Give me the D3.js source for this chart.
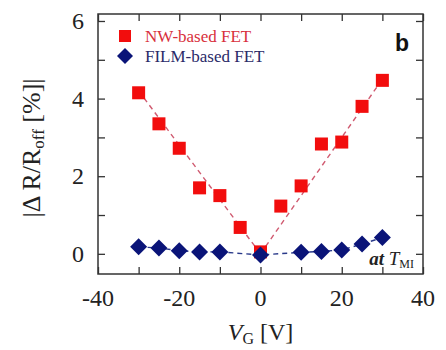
<!DOCTYPE html>
<html>
<head>
<meta charset="utf-8">
<script src="https://cdn.jsdelivr.net/npm/d3@7/dist/d3.min.js"></script>
<style>
  body { margin: 0; background: #fff; }
</style>
</head>
<body>
<div id="chart"></div>
<script>
// values
const gateV = [-30, -25, -20, -15, -10, -5, 0, 5, 10, 15, 20, 25, 30];
const nwValues = [4.15, 3.35, 2.72, 1.70, 1.50, 0.68, 0.05, 1.23, 1.75, 2.83, 2.88, 3.80, 4.47];
const filmV = [-30, -25, -20, -15, -10, 0, 10, 15, 20, 25, 30];
const filmValues = [0.18, 0.15, 0.08, 0.05, 0.05, -0.03, 0.04, 0.06, 0.10, 0.25, 0.42];
// dashed guide lines for the NW device (two branches meeting at 0)
const nwFitLeft = [[-30, 4.2], [0, 0]];
const nwFitRight = [[0, 0], [30, 4.5]];
const xTicks = [-40, -20, 0, 20, 40];
const xMinor = [-30, -10, 10, 30];
const yTicks = [0, 2, 4, 6];
const yMinor = [1, 3, 5];

const W = 446, H = 350;
const margin = {top: 14, right: 23, bottom: 76, left: 98};
const serif = "'Liberation Serif', 'Times New Roman', Times, serif";

const svg = d3.select("#chart").append("svg")
  .attr("width", W).attr("height", H)
  .attr("font-family", serif);

const x = d3.scaleLinear().domain([-40, 40]).range([margin.left, W - margin.right]);
const y = d3.scaleLinear().domain([-0.52, 6.18]).range([H - margin.bottom, margin.top]);

const plotW = W - margin.left - margin.right;
const plotH = H - margin.top - margin.bottom;
const tickLen = 7;

// frame
svg.append("rect")
  .attr("x", margin.left).attr("y", margin.top)
  .attr("width", plotW).attr("height", plotH)
  .attr("fill", "none").attr("stroke", "#333").attr("stroke-width", 1.5);

// inward ticks on all four sides
function drawAxes() {
  const allX = xTicks.concat(xMinor);
  const allY = yTicks.concat(yMinor);

  const bottom = svg.append("g")
    .attr("transform", "translate(0," + (H - margin.bottom) + ")")
    .call(d3.axisBottom(x).tickValues(allX).tickSizeInner(-tickLen).tickSizeOuter(0).tickFormat(""));
  const top = svg.append("g")
    .attr("transform", "translate(0," + margin.top + ")")
    .call(d3.axisTop(x).tickValues(allX).tickSizeInner(-tickLen).tickSizeOuter(0).tickFormat(""));
  const left = svg.append("g")
    .attr("transform", "translate(" + margin.left + ",0)")
    .call(d3.axisLeft(y).tickValues(allY).tickSizeInner(-tickLen).tickSizeOuter(0).tickFormat(""));
  const right = svg.append("g")
    .attr("transform", "translate(" + (W - margin.right) + ",0)")
    .call(d3.axisRight(y).tickValues(allY).tickSizeInner(-tickLen).tickSizeOuter(0).tickFormat(""));

  [bottom, top, left, right].forEach(function (g) {
    g.select(".domain").remove();
    g.selectAll("line").attr("stroke", "#333").attr("stroke-width", 1.3);
  });

  // tick labels
  svg.append("g").selectAll("text")
    .data(xTicks).enter().append("text")
    .attr("x", d => x(d))
    .attr("y", H - margin.bottom + 32)
    .attr("text-anchor", "middle")
    .attr("font-family", serif)
    .attr("font-size", 24)
    .attr("fill", "#222")
    .text(d => d);

  svg.append("g").selectAll("text")
    .data(yTicks).enter().append("text")
    .attr("x", margin.left - 14)
    .attr("y", d => y(d) + 8)
    .attr("text-anchor", "end")
    .attr("font-family", serif)
    .attr("font-size", 24)
    .attr("fill", "#222")
    .text(d => d);
}
drawAxes();

// dashed lines
const line = d3.line().x(d => x(d[0])).y(d => y(d[1]));

[nwFitLeft, nwFitRight].forEach(function (seg) {
  svg.append("path")
    .attr("d", line(seg))
    .attr("fill", "none")
    .attr("stroke", "#d05a70")
    .attr("stroke-width", 1.4)
    .attr("stroke-dasharray", "5,4");
});

svg.append("path")
  .attr("d", line(filmV.map((v, i) => [v, filmValues[i]])))
  .attr("fill", "none")
  .attr("stroke", "#2a3a8a")
  .attr("stroke-width", 1.4)
  .attr("stroke-dasharray", "5,4");

// markers
const sq = 13;
svg.append("g").selectAll("rect")
  .data(gateV.map((v, i) => [v, nwValues[i]]))
  .enter().append("rect")
  .attr("x", d => x(d[0]) - sq / 2)
  .attr("y", d => y(d[1]) - sq / 2)
  .attr("width", sq).attr("height", sq)
  .attr("fill", "#f20d0d");

const dia = 8.5;
svg.append("g").selectAll("path")
  .data(filmV.map((v, i) => [v, filmValues[i]]))
  .enter().append("path")
  .attr("transform", d => "translate(" + x(d[0]) + "," + y(d[1]) + ")")
  .attr("d", "M0," + (-dia) + "L" + dia + ",0L0," + dia + "L" + (-dia) + ",0Z")
  .attr("fill", "#0a1478");

// legend
const legend = svg.append("g");
legend.append("rect")
  .attr("x", 119).attr("y", 30).attr("width", 12).attr("height", 12)
  .attr("fill", "#f20d0d");
legend.append("path")
  .attr("transform", "translate(125,56)")
  .attr("d", "M0,-8L8,0L0,8L-8,0Z")
  .attr("fill", "#0a1478");
legend.append("text")
  .attr("x", 145).attr("y", 42)
  .attr("font-family", serif)
  .attr("font-size", 17).attr("fill", "#d8303c")
  .text("NW-based FET");
legend.append("text")
  .attr("x", 145).attr("y", 62)
  .attr("font-family", serif)
  .attr("font-size", 17).attr("fill", "#2a2a68")
  .text("FILM-based FET");

// panel letter
svg.append("text")
  .attr("x", 402).attr("y", 51)
  .attr("text-anchor", "middle")
  .attr("font-family", "'Liberation Sans', Arial, sans-serif")
  .attr("font-weight", "bold")
  .attr("font-size", 23)
  .attr("fill", "#111")
  .text("b");

// "at T_MI" note
const note = svg.append("text")
  .attr("x", 414).attr("y", 265)
  .attr("text-anchor", "end")
  .attr("font-family", serif)
  .attr("font-size", 19)
  .attr("fill", "#222");
note.append("tspan").attr("font-style", "italic").attr("font-weight", "bold").text("at ");
note.append("tspan").attr("font-style", "italic").text("T");
note.append("tspan").attr("font-size", 12).attr("dy", 3).text("MI");

// axis titles
const xt = svg.append("text")
  .attr("x", x(0)).attr("y", 340)
  .attr("text-anchor", "middle")
  .attr("font-family", serif)
  .attr("font-size", 24)
  .attr("fill", "#222");
xt.append("tspan").attr("font-style", "italic").text("V");
xt.append("tspan").attr("font-size", 16).attr("dy", 4).text("G");
xt.append("tspan").attr("dy", -4).text(" [V]");

const yt = svg.append("text")
  .attr("transform", "translate(40," + 148 + ") rotate(-90)")
  .attr("text-anchor", "middle")
  .attr("font-family", serif)
  .attr("font-size", 26)
  .attr("fill", "#222");
yt.append("tspan").text("|\u0394 R/R");
yt.append("tspan").attr("font-size", 17).attr("dy", 4).text("off");
yt.append("tspan").attr("dy", -4).text(" [%]|");
</script>
</body>
</html>
